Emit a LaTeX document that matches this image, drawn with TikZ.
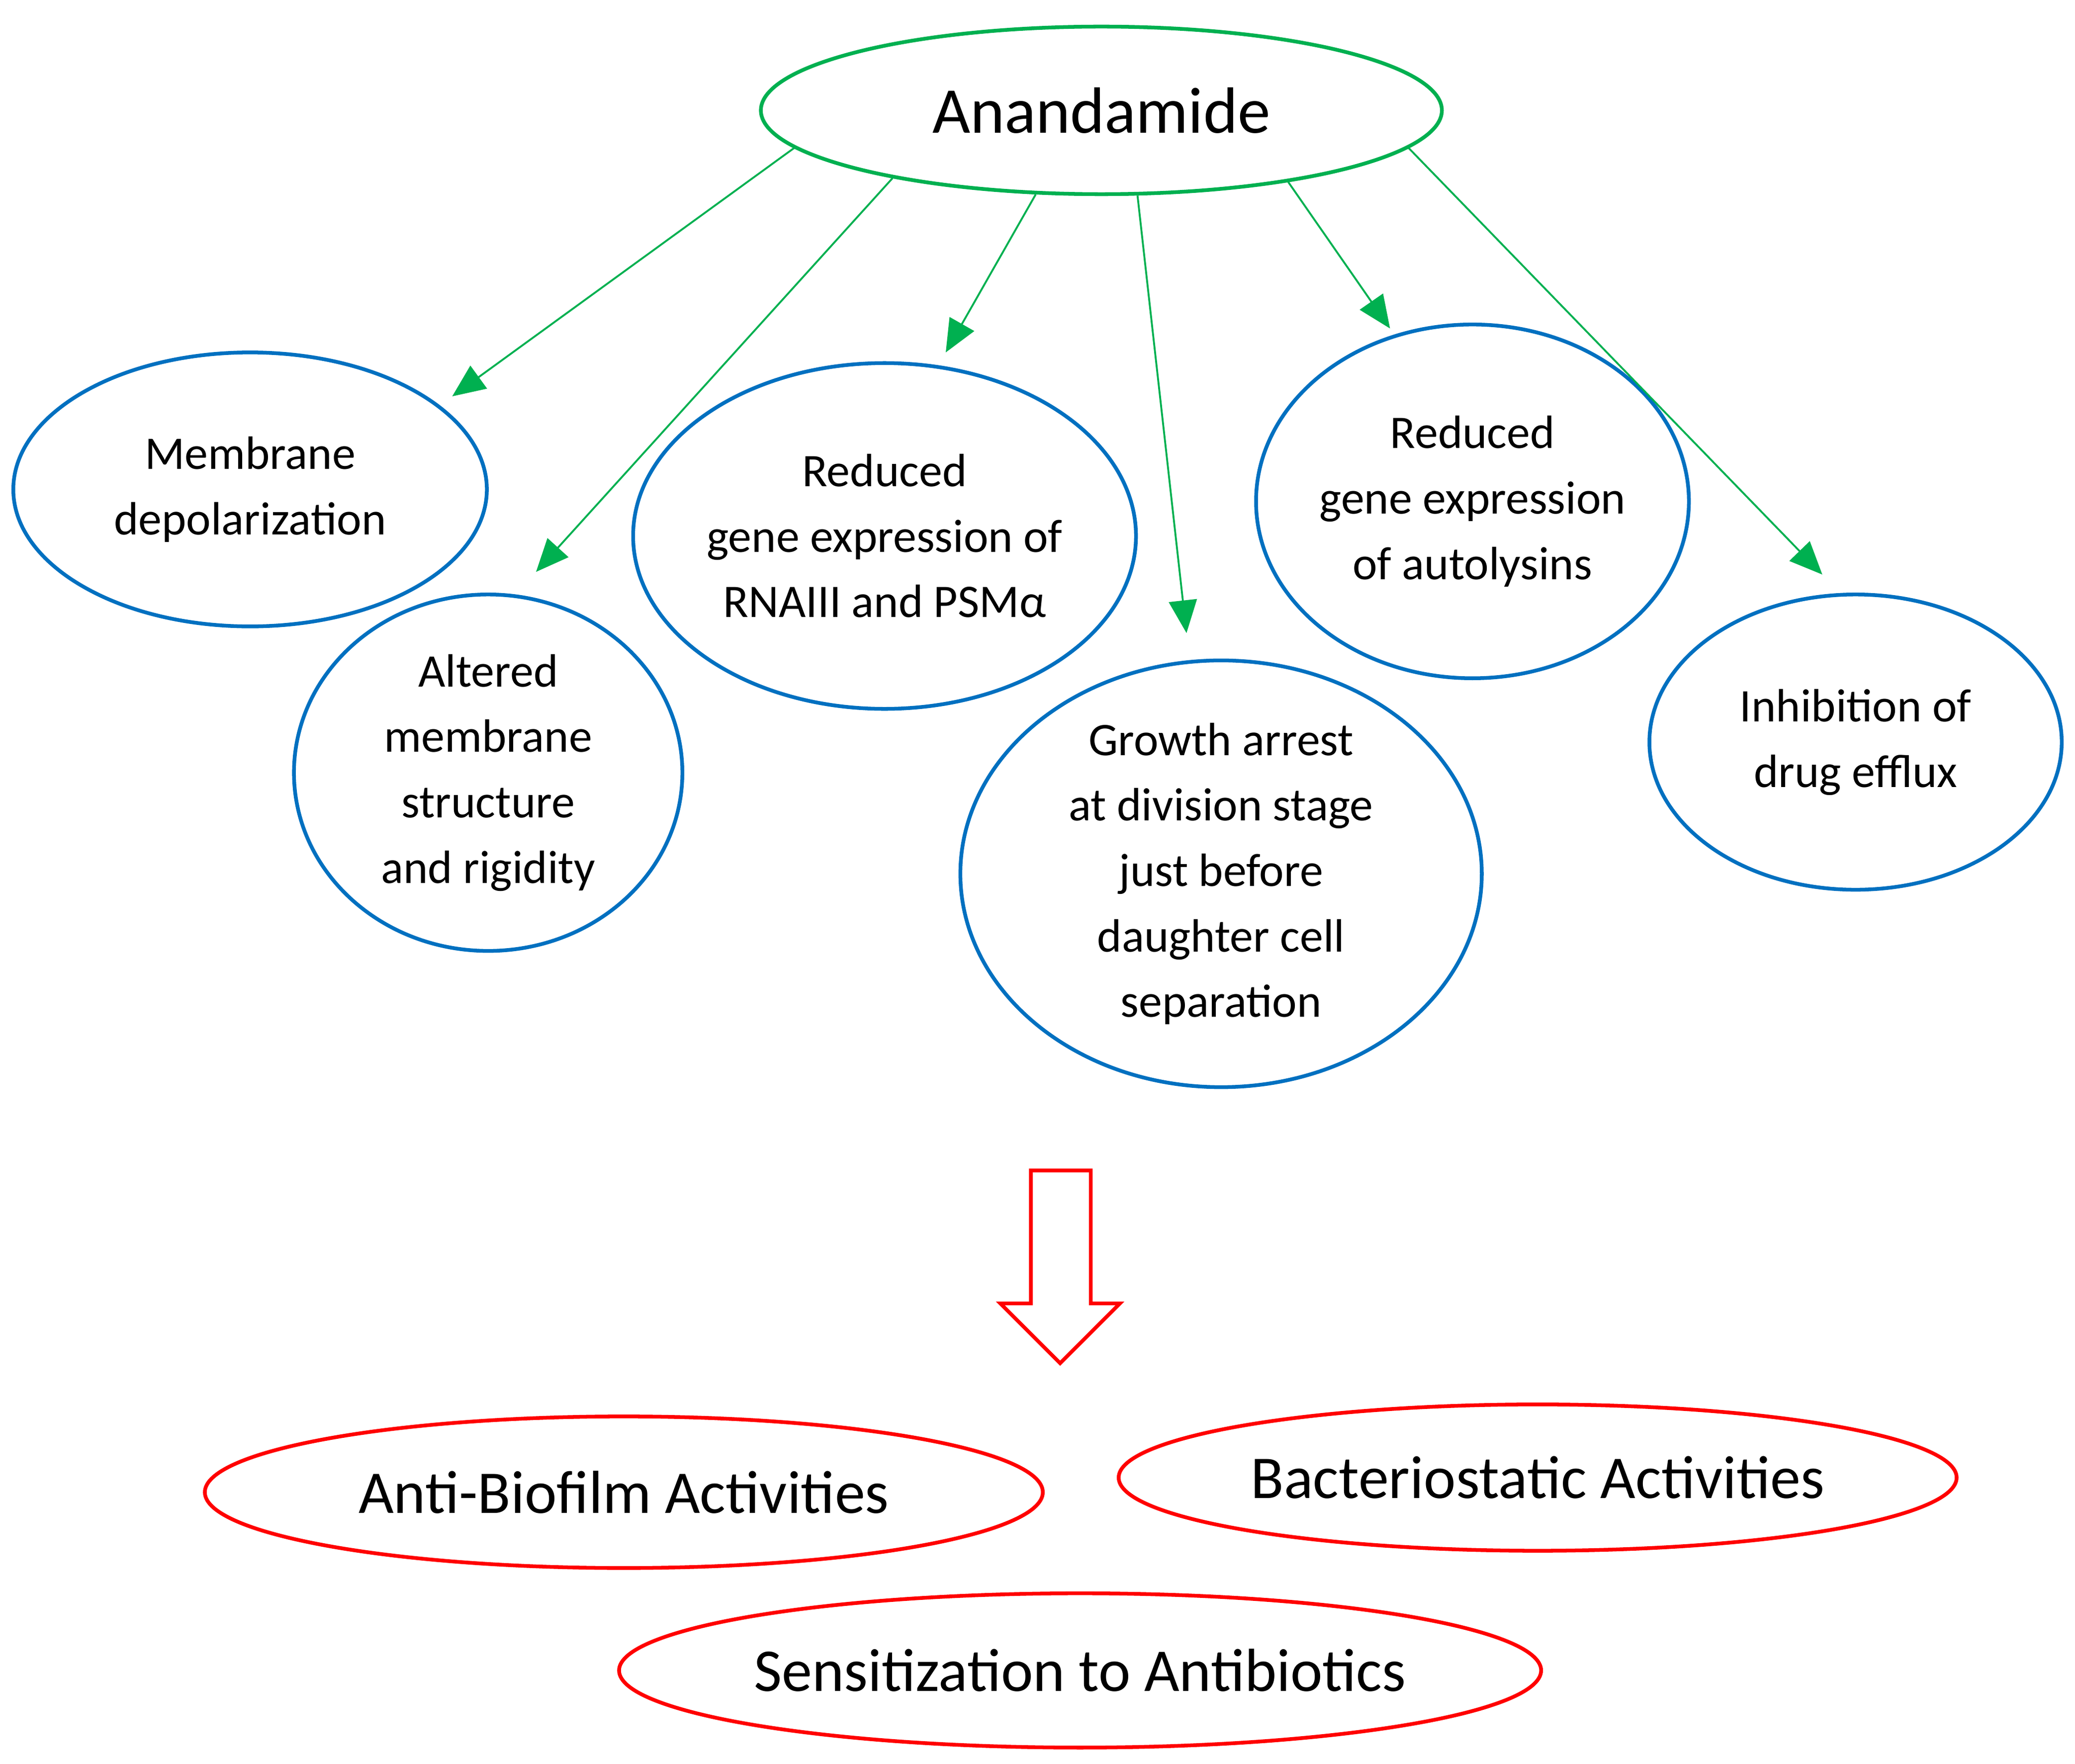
\documentclass[tikz,border=0pt]{standalone}
\usepackage{fontspec}
\setmainfont{Carlito}
\usetikzlibrary{shapes.geometric,arrows.meta,positioning}
\definecolor{effgreen}{RGB}{0,176,80}
\definecolor{effblue}{RGB}{0,112,192}
\begin{document}
\begin{tikzpicture}[
  effect/.style={ellipse, draw=effblue, thick, inner sep=0pt, align=center, font=\fontsize{10}{14}\selectfont},
  outcome/.style={ellipse, draw=red, thick, inner sep=0pt, font=\fontsize{13}{15}\selectfont},
  link/.style={effgreen, -{Triangle[length=7pt,width=6pt]}}
]
\useasboundingbox (0,0) rectangle (15.6,-13.26);

\node[ellipse, draw=effgreen, thick, inner sep=0pt, minimum width=5.12cm, minimum height=1.26cm,
  font=\fontsize{14}{16}\selectfont] (anan) at (8.28,-0.83) {Anandamide};

\node[effect, minimum width=3.56cm, minimum height=2.06cm] (depol) at (1.88,-3.68) {Membrane\\depolarization};
\node[effect, minimum width=2.92cm, minimum height=2.68cm] (alter) at (3.67,-5.81) {Altered\\membrane\\structure\\and rigidity};
\node[effect, minimum width=3.56cm, minimum height=2.60cm] (rnaiii) at (6.65,-4.03) {Reduced\\gene expression of\\RNAIII and PSMα};
\node[effect, minimum width=3.92cm, minimum height=3.06cm] (growth) at (9.18,-6.57) {Growth arrest\\at division stage\\just before\\daughter cell\\separation};
\node[effect, minimum width=2.76cm, minimum height=2.66cm] (autol) at (11.07,-3.77) {Reduced\\gene expression\\of autolysins};
\node[effect, minimum width=3.10cm, minimum height=2.22cm] (efflux) at (13.95,-5.58) {Inhibition of\\drug efflux};

% arrow ends
\coordinate (e1) at (3.40,-2.98);
\coordinate (e2) at (4.03,-4.30);
\coordinate (e3) at (7.11,-2.65);
\coordinate (e4) at (8.92,-4.76);
\coordinate (e5) at (10.45,-2.47);
\coordinate (e6) at (13.70,-4.32);

\draw[link] (anan.187) -- (e1);
\draw[link] (anan.198) -- (e2);
\draw[link] (anan.232) -- (e3);
\draw[link] (anan.293) -- (e4);
\draw[link] (anan.339) -- (e5);
\draw[link] (anan.353) -- (e6);

% block arrow
\draw[red, thick] (7.75,-8.80) -- (8.20,-8.80) -- (8.20,-9.80) -- (8.42,-9.80)
  -- (7.97,-10.25) -- (7.52,-9.80) -- (7.75,-9.80) -- cycle;

\node[outcome, minimum width=6.30cm, minimum height=1.14cm] (biofilm) at (4.69,-11.22) {Anti-Biofilm Activities};
\node[outcome, minimum width=6.30cm, minimum height=1.10cm] (static) at (11.56,-11.11) {Bacteriostatic Activities};
\node[outcome, minimum width=6.52cm, minimum height=1.16cm] (sens) at (8.12,-12.56) {Sensitization to Antibiotics};
\end{tikzpicture}
\end{document}
